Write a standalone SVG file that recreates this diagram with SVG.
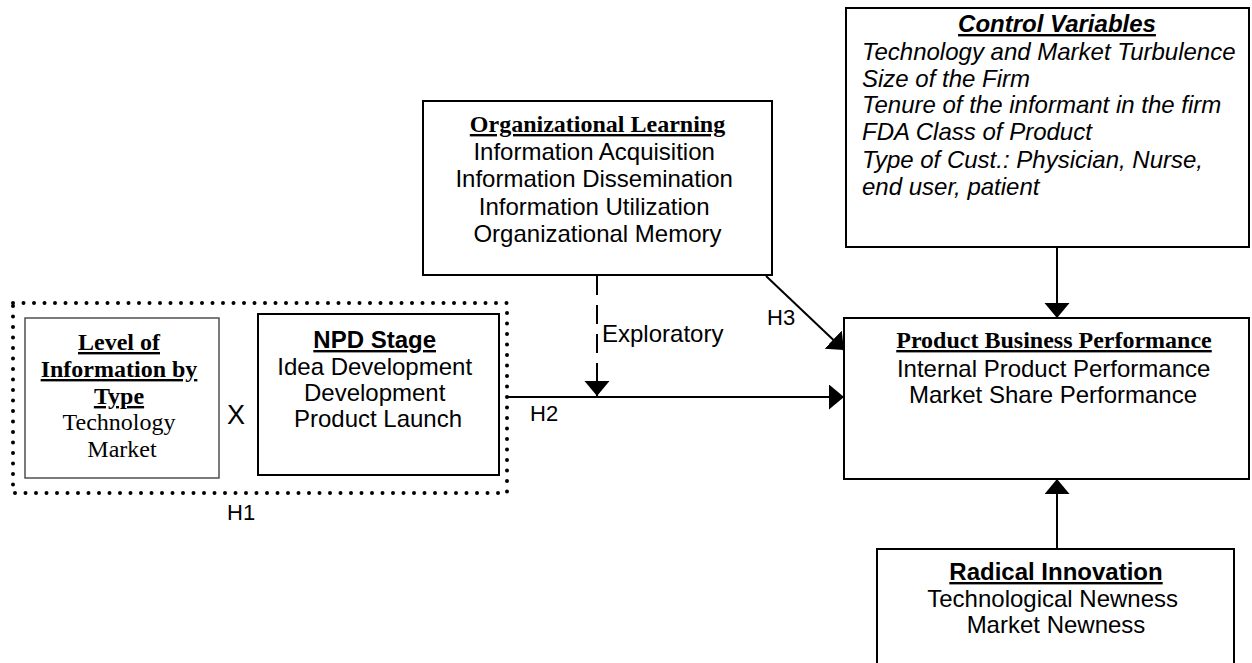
<svg xmlns="http://www.w3.org/2000/svg" width="1252" height="663" viewBox="0 0 1252 663">
  <style>
    .box { fill: #fff; stroke: #000; stroke-width: 2; }
    .thin { fill: #fff; stroke: #444; stroke-width: 1.4; }
    .dots { fill: none; stroke: #000; stroke-width: 4; stroke-linecap: round; stroke-dasharray: 0 10.5; }
    .link { fill: none; stroke: #000; stroke-width: 2; }
    .dash { stroke-dasharray: 19 10; }
    .serif { font-family: "Liberation Serif", "Times New Roman", serif; font-size: 24px; fill: #000; }
    .sans { font-family: "Liberation Sans", Arial, sans-serif; font-size: 24px; fill: #000; }
    .head { font-weight: bold; text-decoration: underline; }
    .it { font-style: italic; }
    .lbl { font-family: "Liberation Sans", Arial, sans-serif; font-size: 22px; fill: #000; }
    .times { font-family: "Liberation Sans", Arial, sans-serif; font-size: 27px; fill: #000; }
  </style>
  <defs>
    <marker id="arrow" markerUnits="userSpaceOnUse" markerWidth="16" markerHeight="26" refX="15" refY="12.5" orient="auto">
      <path d="M0,0 L15,12.5 L0,25 Z" fill="#000"/>
    </marker>
  </defs>

  <!-- interaction term H1: information type x NPD stage -->
  <g id="interaction">
    <rect class="dots" x="13" y="303" width="494" height="190"/>
    <text class="lbl" x="227" y="520">H1</text>
    <text class="times" x="236" y="424" text-anchor="middle">X</text>
  </g>

  <g id="level-of-information">
    <rect class="thin" x="25" y="318" width="194" height="160"/>
    <text class="serif" text-anchor="middle">
      <tspan class="head" x="122" y="350">Level of</tspan>
      <tspan class="head" x="122" y="377">Information by</tspan>
      <tspan class="head" x="122" y="404">Type</tspan>
      <tspan x="122" y="430">Technology</tspan>
      <tspan x="122" y="457">Market</tspan>
    </text>
  </g>

  <g id="npd-stage">
    <rect class="box" x="258" y="314" width="241" height="161"/>
    <text class="sans" text-anchor="middle">
      <tspan class="head" x="378" y="348">NPD Stage</tspan>
      <tspan x="378" y="375">Idea Development</tspan>
      <tspan x="378" y="401">Development</tspan>
      <tspan x="378" y="427">Product Launch</tspan>
    </text>
  </g>

  <g id="organizational-learning">
    <rect class="box" x="423" y="101" width="349" height="174"/>
    <text class="serif head" x="597.5" y="132" text-anchor="middle">Organizational Learning</text>
    <text class="sans" text-anchor="middle">
      <tspan x="597.5" y="160">Information Acquisition</tspan>
      <tspan x="597.5" y="187">Information Dissemination</tspan>
      <tspan x="597.5" y="215">Information Utilization</tspan>
      <tspan x="597.5" y="242">Organizational Memory</tspan>
    </text>
  </g>

  <g id="control-variables">
    <rect class="box" x="846" y="8" width="403" height="239"/>
    <text class="sans head it" x="1057" y="32" text-anchor="middle">Control Variables</text>
    <text class="sans it">
      <tspan x="862" y="60">Technology and Market Turbulence</tspan>
      <tspan x="862" y="87">Size of the Firm</tspan>
      <tspan x="862" y="113">Tenure of the informant in the firm</tspan>
      <tspan x="862" y="140">FDA Class of Product</tspan>
      <tspan x="862" y="168">Type of Cust.: Physician, Nurse,</tspan>
      <tspan x="862" y="195">end user, patient</tspan>
    </text>
  </g>

  <g id="product-business-performance">
    <rect class="box" x="844" y="318" width="405" height="161"/>
    <text class="serif head" x="1054" y="348" text-anchor="middle">Product Business Performance</text>
    <text class="sans" text-anchor="middle">
      <tspan x="1057" y="377">Internal Product Performance</tspan>
      <tspan x="1053" y="403">Market Share Performance</tspan>
    </text>
  </g>

  <g id="radical-innovation">
    <rect class="box" x="877" y="549" width="357" height="130"/>
    <text class="sans head" x="1056" y="580" text-anchor="middle">Radical Innovation</text>
    <text class="sans" text-anchor="middle">
      <tspan x="1056" y="607">Technological Newness</tspan>
      <tspan x="1056" y="633">Market Newness</tspan>
    </text>
  </g>

  <g id="connectors">
    <!-- H2: main effect of the interaction term -->
    <line class="link" x1="508" y1="397" x2="844" y2="397" marker-end="url(#arrow)"/>
    <text class="lbl" x="530" y="421">H2</text>
    <!-- exploratory moderation by organizational learning -->
    <line class="link dash" x1="597" y1="276" x2="597" y2="396" marker-end="url(#arrow)"/>
    <text class="sans" x="602" y="342">Exploratory</text>
    <!-- H3: organizational learning to performance -->
    <line class="link" x1="766" y1="276" x2="844" y2="350" marker-end="url(#arrow)"/>
    <text class="lbl" x="767" y="325">H3</text>
    <!-- controls and radical innovation -->
    <line class="link" x1="1057" y1="247" x2="1057" y2="318" marker-end="url(#arrow)"/>
    <line class="link" x1="1057" y1="549" x2="1057" y2="479" marker-end="url(#arrow)"/>
  </g>
</svg>
